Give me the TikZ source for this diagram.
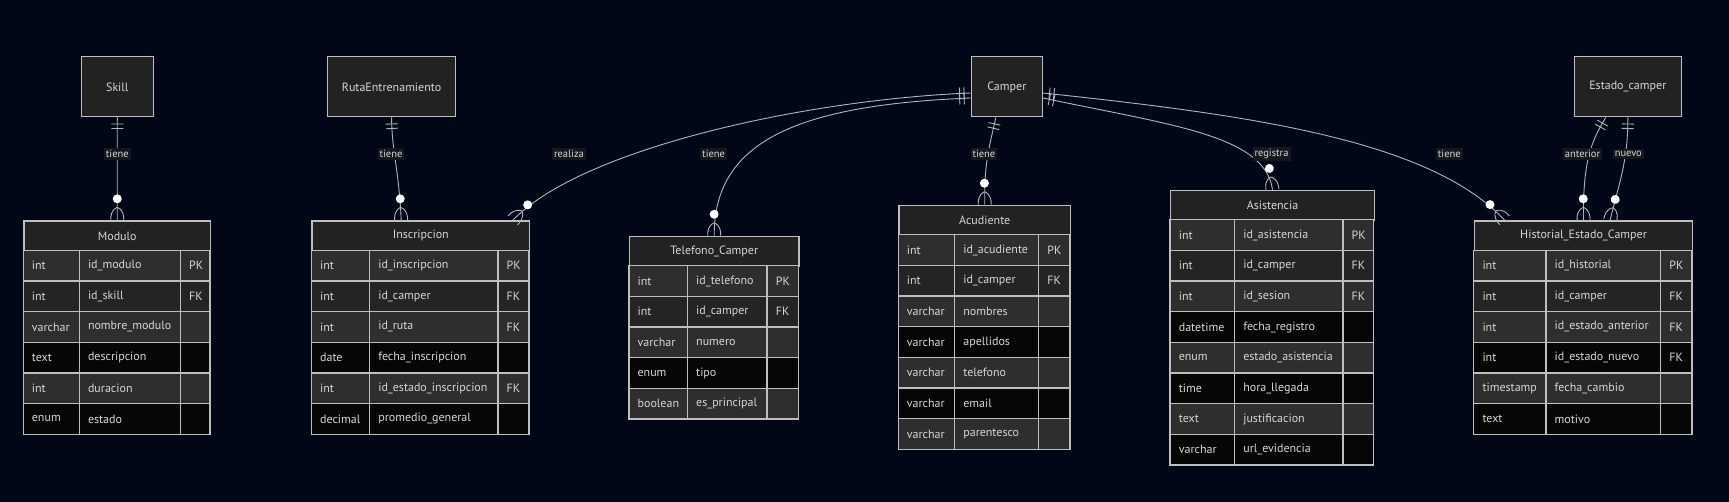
\documentclass[tikz,border=0pt]{standalone}
\usepackage{fontspec}
\setmainfont{PT Sans}
\usetikzlibrary{calc,decorations.markings}

\definecolor{bgnavy}{HTML}{020718}
\definecolor{boxfill}{HTML}{222222}
\definecolor{rowodd}{HTML}{2E2E2E}
\definecolor{rowtwo}{HTML}{242424}
\definecolor{roweven}{HTML}{060606}
\definecolor{gridline}{HTML}{BEBEBE}
\definecolor{relgray}{HTML}{B4B4B4}
\definecolor{labelbg}{HTML}{16181E}
\definecolor{txtgray}{HTML}{D6D6D6}

\tikzset{
  entbox/.style={draw=gridline, line width=1pt, fill=boxfill, text=txtgray,
    font=\fontsize{12}{14}\selectfont, minimum height=60pt},
  enthead/.style={draw=gridline, line width=1.3pt, fill=boxfill, text=txtgray,
    font=\fontsize{12}{14}\selectfont, minimum height=30pt, inner sep=0pt},
  rowcell/.style={draw=gridline, line width=1.3pt},
  celltext/.style={anchor=west, text=txtgray, font=\fontsize{12}{14}\selectfont, inner sep=0pt},
  rel/.style={draw=relgray, line width=0.9pt},
  onemany/.style={rel, postaction={decorate, decoration={markings,
    mark=at position 6.5pt with {\draw[rel] (0,-6) -- (0,6);},
    mark=at position 11pt with {\draw[rel] (0,-6) -- (0,6);},
    mark=at position -0.5pt with {
      \draw[rel] (-12.5,0) .. controls (-9.5,6.5) and (-3.5,6.5) .. (0.5,6.5);
      \draw[rel] (-12.5,0) .. controls (-9.5,-6.5) and (-3.5,-6.5) .. (0.5,-6.5);
      \fill[white] (-21,0) circle[radius=4.5pt];
    }}}},
  rellabel/.style={fill=labelbg, text=txtgray, font=\fontsize{10.5}{12}\selectfont, inner sep=2pt}
}

% table: name, left, col2, col3, right, top, title, rows
\newcommand{\ertable}[8]{%
  \node[enthead, anchor=north west, minimum width={#5pt-#2pt}] (#1) at (#2,#6) {#7};
  \foreach \ty/\nm/\ky [count=\i] in {#8} {
    \pgfmathsetmacro{\ya}{#6+30+(\i-1)*30.67}
    \pgfmathsetmacro{\yb}{\ya+30.67}
    \pgfmathsetmacro{\ym}{\ya+15.33}
    \ifnum\i=2 \def\rc{rowtwo}\else\ifodd\i\def\rc{rowodd}\else\def\rc{roweven}\fi\fi
    \filldraw[rowcell, fill=\rc] (#2,\ya) rectangle (#3,\yb);
    \filldraw[rowcell, fill=\rc] (#3,\ya) rectangle (#4,\yb);
    \filldraw[rowcell, fill=\rc] (#4,\ya) rectangle (#5,\yb);
    \node[celltext] (#1-t\i) at (#2+8.5,\ym) {\ty};
    \node[celltext] (#1-n\i) at (#3+8.5,\ym) {\nm};
    \node[celltext] (#1-k\i) at (#4+8.5,\ym) {\ky};
  }
}

\begin{document}
\begin{tikzpicture}[x=1pt,y=-1pt]

% background
\fill[bgnavy] (0,0) rectangle (1729,502);
\useasboundingbox (0,0) rectangle (1729,502);

% Entities without attributes
\node[entbox, minimum width=71.8pt] (skill) at (117.3,87) {Skill};
\node[entbox, minimum width=128.2pt] (ruta) at (391.6,87) {RutaEntrenamiento};
\node[entbox, minimum width=71.4pt] (camper) at (1006.8,87) {Camper};
\node[entbox, minimum width=106.8pt] (estado) at (1627.8,87) {Estado\_camper};

% Modulo
\ertable{modulo}{23.2}{79.3}{180.4}{210}{220.3}{Modulo}{
  int/id\_modulo/PK, int/id\_skill/FK, varchar/nombre\_modulo/{},
  text/descripcion/{}, int/duracion/{}, enum/estado/{}}

% Inscripcion
\ertable{inscripcion}{311.4}{369.6}{497.9}{528.9}{220.3}{Inscripcion}{
  int/id\_inscripcion/PK, int/id\_camper/FK, int/id\_ruta/FK,
  date/fecha\_inscripcion/{}, int/id\_estado\_inscripcion/FK, decimal/promedio\_general/{}}

% Telefono_Camper
\ertable{telefono}{628.9}{687.5}{767.1}{798.2}{235.7}{Telefono\_Camper}{
  int/id\_telefono/PK, int/id\_camper/FK, varchar/numero/{},
  enum/tipo/{}, boolean/es\_principal/{}}

% Acudiente
\ertable{acudiente}{898.2}{954.6}{1038.6}{1070}{204.7}{Acudiente}{
  int/id\_acudiente/PK, int/id\_camper/FK, varchar/nombres/{}, varchar/apellidos/{},
  varchar/telefono/{}, varchar/email/{}, varchar/parentesco/{}}

% Asistencia
\ertable{asistencia}{1170.1}{1234.6}{1342.9}{1373.6}{189.7}{Asistencia}{
  int/id\_asistencia/PK, int/id\_camper/FK, int/id\_sesion/FK, datetime/fecha\_registro/{},
  enum/estado\_asistencia/{}, time/hora\_llegada/{}, text/justificacion/{}, varchar/url\_evidencia/{}}

% Historial_Estado_Camper
\ertable{historial}{1473.8}{1546}{1660.6}{1692}{220.3}{Historial\_Estado\_Camper}{
  int/id\_historial/PK, int/id\_camper/FK, int/id\_estado\_anterior/FK,
  int/id\_estado\_nuevo/FK, timestamp/fecha\_cambio/{}, text/motivo/{}}

% Relationships
\draw[onemany] (skill.south) -- (modulo.north);
\draw[onemany] (ruta.south) .. controls (391.6,150) and (399,170) .. ([xshift=-19.6pt]inscripcion.north);
\draw[onemany] ([yshift=-6pt]camper.west) .. controls (800,100) and (580,150) .. ([xshift=92pt]inscripcion.north);
\draw[onemany] ([yshift=-11pt]camper.west) .. controls (800,105) and (713.6,140) .. (telefono.north);
\draw[onemany] ([xshift=-11pt]camper.south) .. controls (990,145) and (984,160) .. (acudiente.north);
\draw[onemany] ([yshift=-11pt]camper.east) .. controls (1170,125) and (1265,135) .. (asistencia.north);
\draw[onemany] ([yshift=-6pt]camper.east) .. controls (1250,115) and (1430,140) .. ([xshift=-78.9pt]historial.north);
\draw[onemany] ([xshift=-22pt]estado.south) .. controls (1592,140) and (1582.5,160) .. (historial.north);
\draw[onemany] (estado.south) .. controls (1628,160) and (1620,180) .. ([xshift=26.5pt]historial.north);

% Relationship labels
\node[rellabel] (l-skill) at (117.3,154) {tiene};
\node[rellabel] (l-ruta) at (391,154) {tiene};
\node[rellabel] (l-realiza) at (569,154) {realiza};
\node[rellabel] (l-tel) at (713.6,154) {tiene};
\node[rellabel] (l-acu) at (983.9,154) {tiene};
\node[rellabel] (l-registra) at (1271.5,154) {registra};
\node[rellabel] (l-hist) at (1449.3,154) {tiene};
\node[rellabel] (l-anterior) at (1582.5,154) {anterior};
\node[rellabel] (l-nuevo) at (1628.3,154) {nuevo};

\end{tikzpicture}
\end{document}
